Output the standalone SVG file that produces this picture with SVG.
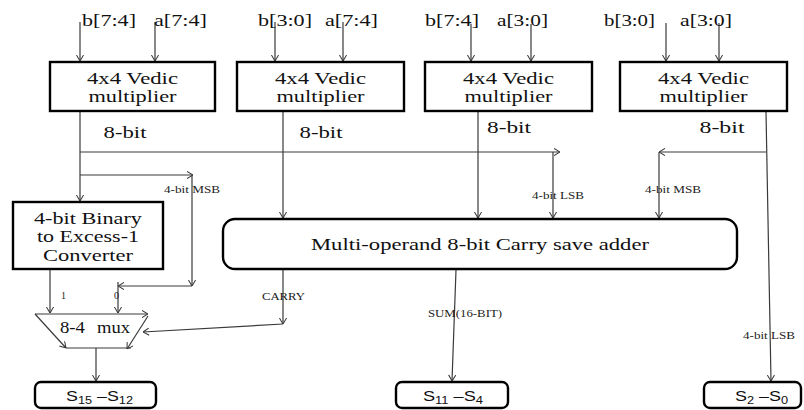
<svg xmlns="http://www.w3.org/2000/svg" width="804" height="410" viewBox="0 0 804 410">
<defs>
<style>
.bg{fill:#fff}
.box{fill:#fff;stroke:#000;stroke-width:2.4}
.ln{fill:none;stroke:#3a3a3a;stroke-width:1.2}
.arr{fill:none;stroke:#3a3a3a;stroke-width:1.2;marker-end:url(#ah)}
.t{font-family:"Liberation Serif","Times New Roman",serif;fill:#111}
.in{font-size:16px}
.bx{font-size:17px;text-anchor:middle}
.sm{font-size:10px;fill:#222}
.ss{font-family:"Liberation Sans",Arial,sans-serif;font-size:14px;fill:#111}
</style>
<marker id="ah" viewBox="0 0 8 10" refX="8" refY="5" markerWidth="6.5" markerHeight="8" markerUnits="userSpaceOnUse" orient="auto">
<path d="M0.5,0.5 L8,5 L0.5,9.5" fill="none" stroke="#3a3a3a" stroke-width="1.3"/>
</marker>
</defs>
<rect class="bg" x="0" y="0" width="804" height="410"/>

<g id="connectors">
<!-- inputs -->
<line class="arr" x1="80" y1="22" x2="80" y2="61"/>
<line class="arr" x1="155" y1="22" x2="155" y2="61"/>
<line class="arr" x1="275" y1="22" x2="275" y2="61"/>
<line class="arr" x1="343" y1="22" x2="343" y2="61"/>
<line class="arr" x1="471" y1="24" x2="471" y2="61"/>
<line class="arr" x1="531" y1="24" x2="531" y2="61"/>
<line class="arr" x1="666" y1="23" x2="666" y2="61"/>
<line class="arr" x1="719" y1="23" x2="719" y2="61"/>
<!-- box1 out -->
<line class="arr" x1="80" y1="112" x2="80" y2="201"/>
<line class="arr" x1="80" y1="152" x2="560" y2="152"/>
<line class="arr" x1="553" y1="152" x2="553" y2="218"/>
<line class="arr" x1="80" y1="175" x2="193" y2="175"/>
<line class="arr" x1="192" y1="175" x2="192" y2="286"/>
<line class="arr" x1="192" y1="286" x2="118" y2="286"/>
<line class="arr" x1="118" y1="282" x2="118" y2="313"/>
<!-- box2, box3 out -->
<line class="arr" x1="283" y1="112" x2="283" y2="218"/>
<line class="arr" x1="478" y1="112" x2="478" y2="218"/>
<!-- box4 out -->
<line class="arr" x1="766" y1="112" x2="771" y2="381"/>
<line class="arr" x1="766" y1="152" x2="659" y2="152"/>
<line class="arr" x1="659" y1="152" x2="659" y2="218"/>
<!-- converter out -->
<line class="arr" x1="50" y1="270" x2="50" y2="313"/>
<!-- carry -->
<line class="arr" x1="283" y1="270" x2="283" y2="324"/>
<line class="arr" x1="283" y1="324" x2="143" y2="332"/>
<!-- sum -->
<line class="arr" x1="456" y1="270" x2="452" y2="381"/>
<!-- mux out -->
<line class="arr" x1="96" y1="348" x2="96" y2="381"/>
</g>

<g id="labels">
<text class="t sm" x="164" y="193" textLength="56" lengthAdjust="spacingAndGlyphs">4-bit MSB</text>
<text class="t sm" x="532" y="199" textLength="52" lengthAdjust="spacingAndGlyphs">4-bit LSB</text>
<text class="t sm" x="645" y="193" textLength="56" lengthAdjust="spacingAndGlyphs">4-bit MSB</text>
<text class="t sm" x="262" y="300" textLength="43" lengthAdjust="spacingAndGlyphs">CARRY</text>
<text class="t sm" x="428" y="317" textLength="74" lengthAdjust="spacingAndGlyphs">SUM(16-BIT)</text>
<text class="t sm" x="743" y="339" textLength="52" lengthAdjust="spacingAndGlyphs">4-bit LSB</text>
<text class="t sm" x="61" y="299">1</text>
<text class="t sm" x="114" y="299">0</text>
<text class="t bx" x="125" y="138" textLength="43" lengthAdjust="spacingAndGlyphs">8-bit</text>
<text class="t bx" x="321" y="138" textLength="43" lengthAdjust="spacingAndGlyphs">8-bit</text>
<text class="t bx" x="509" y="133" textLength="44" lengthAdjust="spacingAndGlyphs">8-bit</text>
<text class="t bx" x="722" y="133" textLength="45" lengthAdjust="spacingAndGlyphs">8-bit</text>
</g>

<g id="inputs">
<text class="t in" x="82" y="26" textLength="54" lengthAdjust="spacingAndGlyphs">b[7:4]</text>
<text class="t in" x="154" y="26" textLength="53" lengthAdjust="spacingAndGlyphs">a[7:4]</text>
<text class="t in" x="258" y="26" textLength="54" lengthAdjust="spacingAndGlyphs">b[3:0]</text>
<text class="t in" x="325" y="26" textLength="53" lengthAdjust="spacingAndGlyphs">a[7:4]</text>
<text class="t in" x="425" y="26" textLength="54" lengthAdjust="spacingAndGlyphs">b[7:4]</text>
<text class="t in" x="497" y="26" textLength="51" lengthAdjust="spacingAndGlyphs">a[3:0]</text>
<text class="t in" x="604" y="26" textLength="51" lengthAdjust="spacingAndGlyphs">b[3:0]</text>
<text class="t in" x="680" y="26" textLength="52" lengthAdjust="spacingAndGlyphs">a[3:0]</text>
</g>

<g id="mult1">
<rect class="box" x="50" y="62" width="165" height="49"/>
<text class="t bx" x="132.5" y="84" textLength="91" lengthAdjust="spacingAndGlyphs">4x4 Vedic</text>
<text class="t bx" x="132.5" y="102" textLength="88" lengthAdjust="spacingAndGlyphs">multiplier</text>
</g>
<g id="mult2">
<rect class="box" x="237" y="62" width="167" height="49"/>
<text class="t bx" x="320.5" y="84" textLength="91" lengthAdjust="spacingAndGlyphs">4x4 Vedic</text>
<text class="t bx" x="320.5" y="102" textLength="88" lengthAdjust="spacingAndGlyphs">multiplier</text>
</g>
<g id="mult3">
<rect class="box" x="425" y="62" width="167" height="49"/>
<text class="t bx" x="508.5" y="84" textLength="91" lengthAdjust="spacingAndGlyphs">4x4 Vedic</text>
<text class="t bx" x="508.5" y="102" textLength="88" lengthAdjust="spacingAndGlyphs">multiplier</text>
</g>
<g id="mult4">
<rect class="box" x="620" y="62" width="167" height="49"/>
<text class="t bx" x="703.5" y="84" textLength="91" lengthAdjust="spacingAndGlyphs">4x4 Vedic</text>
<text class="t bx" x="703.5" y="102" textLength="88" lengthAdjust="spacingAndGlyphs">multiplier</text>
</g>

<g id="converter">
<rect class="box" x="13" y="202" width="150" height="67"/>
<text class="t bx" x="88" y="224" textLength="108" lengthAdjust="spacingAndGlyphs">4-bit Binary</text>
<text class="t bx" x="88" y="242" textLength="102" lengthAdjust="spacingAndGlyphs">to Excess-1</text>
<text class="t bx" x="88" y="261" textLength="90" lengthAdjust="spacingAndGlyphs">Converter</text>
</g>

<g id="csa">
<rect class="box" x="223" y="219" width="514" height="50" rx="12"/>
<text class="t bx" x="480" y="250" textLength="338" lengthAdjust="spacingAndGlyphs">Multi-operand 8-bit Carry save adder</text>
</g>

<g id="mux">
<line class="arr" x1="35" y1="314" x2="148" y2="314"/>
<line class="arr" x1="35" y1="314" x2="66" y2="348"/>
<line class="ln" x1="66" y1="348" x2="131" y2="348"/>
<line class="arr" x1="148" y1="316" x2="127" y2="349"/>
<text class="t bx" x="72.5" y="333" textLength="25" lengthAdjust="spacingAndGlyphs">8-4</text>
<text class="t bx" x="113.5" y="333" textLength="33" lengthAdjust="spacingAndGlyphs">mux</text>
</g>

<g id="out_s15_s12">
<rect class="box" x="35" y="382" width="121" height="26" rx="6"/>
<text class="ss" x="66" y="401" textLength="67" lengthAdjust="spacingAndGlyphs">S<tspan font-size="10" dy="3">15</tspan><tspan dy="-3"> –S</tspan><tspan font-size="10" dy="3">12</tspan></text>
</g>
<g id="out_s11_s4">
<rect class="box" x="396" y="382" width="112" height="26" rx="6"/>
<text class="ss" x="423" y="401" textLength="60" lengthAdjust="spacingAndGlyphs">S<tspan font-size="10" dy="3">11</tspan><tspan dy="-3"> –S</tspan><tspan font-size="10" dy="3">4</tspan></text>
</g>
<g id="out_s2_s0">
<rect class="box" x="704" y="382" width="97" height="26" rx="6"/>
<text class="ss" x="735" y="401" textLength="53" lengthAdjust="spacingAndGlyphs">S<tspan font-size="10" dy="3">2</tspan><tspan dy="-3"> –S</tspan><tspan font-size="10" dy="3">0</tspan></text>
</g>
</svg>
